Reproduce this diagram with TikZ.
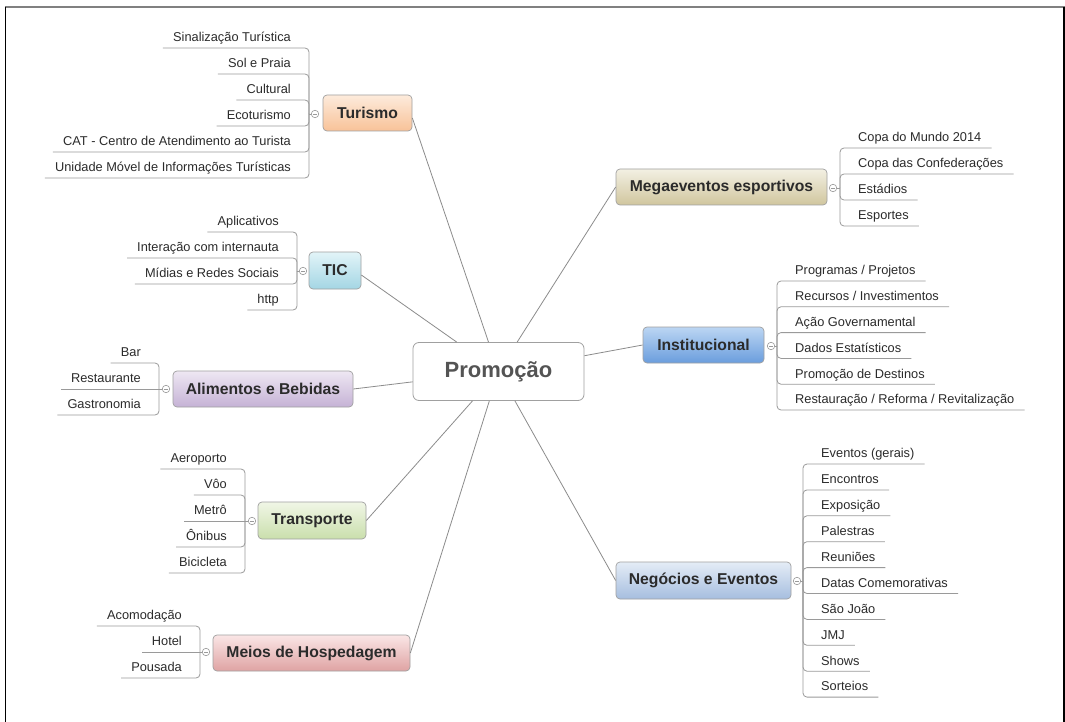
\documentclass[tikz,border=0pt]{standalone}
\usepackage{fontspec}
\setmainfont{Liberation Sans}
\usetikzlibrary{calc}
\definecolor{txt}{HTML}{2B2B2B}
\definecolor{ln}{HTML}{8C8C8C}
\definecolor{sl}{HTML}{9A9A9A}
\definecolor{bd}{HTML}{A0A0A0}
\definecolor{turT}{HTML}{FDEBDC}\definecolor{turB}{HTML}{F8C298}
\definecolor{ticT}{HTML}{E2F4F8}\definecolor{ticB}{HTML}{A4D6E4}
\definecolor{aliT}{HTML}{EEE7F3}\definecolor{aliB}{HTML}{C5B2D5}
\definecolor{traT}{HTML}{F0F6E6}\definecolor{traB}{HTML}{CADFAC}
\definecolor{meiT}{HTML}{FAE6E6}\definecolor{meiB}{HTML}{DFA3A3}
\definecolor{megT}{HTML}{F3F0E3}\definecolor{megB}{HTML}{D0C69E}
\definecolor{insT}{HTML}{BCD6F3}\definecolor{insB}{HTML}{6A9DDD}
\definecolor{negT}{HTML}{E4ECF6}\definecolor{negB}{HTML}{A6BEDF}
\tikzset{
  topic/.style={draw=bd, line width=0.7pt, rounded corners=4pt, inner sep=0pt,
    font=\fontsize{15.7}{18}\selectfont\bfseries, text=txt, minimum height=36pt},
  itemL/.style={anchor=south east, inner xsep=10pt, inner ysep=3pt, text height=9.5pt,
    text depth=3pt, font=\fontsize{12.8}{14}\selectfont, text=txt},
  itemR/.style={itemL, anchor=south west},
  sub/.style={draw=sl, line width=0.8pt, rounded corners=4pt},
  mainln/.style={draw=ln, line width=0.8pt},
  coll/.style={circle, draw=sl, fill=white, minimum size=7.5pt, inner sep=0pt, line width=0.6pt,
    path picture={\draw[draw=sl, line width=0.5pt]
      ([xshift=-2pt]path picture bounding box.center) -- ([xshift=2pt]path picture bounding box.center);}}
}
\begin{document}
\begin{tikzpicture}[x=1pt,y=-1pt]
\useasboundingbox (0,0) rectangle (1065,722);
\fill[white] (0,0) rectangle (1065,722);
\draw[gray, line width=2pt] (5,7) -- (1065,7);
\draw[black, line width=1.3pt] (5.5,7) -- (5.5,722);
\draw[black, line width=1.3pt] (1064,7) -- (1064,722);

% central topic
\node[draw=bd, line width=0.8pt, rounded corners=6pt, minimum width=171pt, minimum height=58pt,
  fill=white, inner sep=0pt, font=\fontsize{22}{26}\selectfont\bfseries, text=black!67] (promo) at (498.5,371.5) {Promoção};

% main topics
\node[topic, top color=turT, bottom color=turB, minimum width=89pt] (tur) at (367.5,113) {Turismo};
\node[topic, top color=ticT, bottom color=ticB, minimum width=52pt, minimum height=37pt] (tic) at (335,270.5) {TIC};
\node[topic, top color=aliT, bottom color=aliB, minimum width=180pt] (ali) at (263,389) {Alimentos e Bebidas};
\node[topic, top color=traT, bottom color=traB, minimum width=108pt, minimum height=37pt] (tra) at (312,520.5) {Transporte};
\node[topic, top color=meiT, bottom color=meiB, minimum width=197pt] (mei) at (311.5,653) {Meios de Hospedagem};
\node[topic, top color=megT, bottom color=megB, minimum width=211pt] (meg) at (721.5,187) {Megaeventos esportivos};
\node[topic, top color=insT, bottom color=insB, minimum width=121pt] (ins) at (703.5,345) {Institucional};
\node[topic, top color=negT, bottom color=negB, minimum width=175pt, minimum height=37pt] (neg) at (703.5,580.5) {Negócios e Eventos};

% main connectors
\draw[mainln] ($(tur.east)+(0,5)$) -- (promo);
\draw[mainln] ($(tic.east)+(0,4.5)$) -- (promo);
\draw[mainln] (ali.east) -- (promo);
\draw[mainln] (tra.east) -- (promo);
\draw[mainln] (mei.east) -- (promo);
\draw[mainln] (meg.west) -- (promo);
\draw[mainln] (ins.west) -- (promo);
\draw[mainln] (neg.west) -- (promo);

% Turismo branch
\node[coll] (turC) at (315,114) {};
\coordinate (turBr) at (309,114);
\draw[sub] (turC) -- (turBr);
\foreach \t [count=\i] in {{Sinalização Turística},{Sol e Praia},{Cultural},{Ecoturismo},
  {CAT - Centro de Atendimento ao Turista},{Unidade Móvel de Informações Turísticas}}{
  \node[itemL] (tur-\i) at (301,{48+26*(\i-1)}) {\t};
  \draw[sub] (turBr) |- (tur-\i.south west);
}

% TIC branch
\node[coll] (ticC) at (303,271) {};
\coordinate (ticBr) at (297,271);
\draw[sub] (ticC) -- (ticBr);
\foreach \t [count=\i] in {{Aplicativos},{Interação com internauta},{Mídias e Redes Sociais},{http}}{
  \node[itemL] (tic-\i) at (289,{232+26*(\i-1)}) {\t};
  \draw[sub] (ticBr) |- (tic-\i.south west);
}

% Alimentos branch
\node[coll] (aliC) at (166,389) {};
\coordinate (aliBr) at (159,389);
\draw[sub] (aliC) -- (aliBr);
\foreach \t [count=\i] in {{Bar},{Restaurante},{Gastronomia}}{
  \node[itemL] (ali-\i) at (151,{363+26*(\i-1)}) {\t};
  \ifnum\i=2 \draw[sub] (aliBr) -- (ali-\i.south west);
  \else \draw[sub] (aliBr) |- (ali-\i.south west); \fi
}

% Transporte branch
\node[coll] (traC) at (252,521) {};
\coordinate (traBr) at (245,521);
\draw[sub] (traC) -- (traBr);
\foreach \t [count=\i] in {{Aeroporto},{Vôo},{Metrô},{Ônibus},{Bicicleta}}{
  \node[itemL] (tra-\i) at (237,{469+26*(\i-1)}) {\t};
  \ifnum\i=3 \draw[sub] (traBr) -- (tra-\i.south west);
  \else \draw[sub] (traBr) |- (tra-\i.south west); \fi
}

% Meios branch
\node[coll] (meiC) at (206,652) {};
\coordinate (meiBr) at (200,652);
\draw[sub] (meiC) -- (meiBr);
\foreach \t [count=\i] in {{Acomodação},{Hotel},{Pousada}}{
  \node[itemL] (mei-\i) at (192,{626+26*(\i-1)}) {\t};
  \ifnum\i=2 \draw[sub] (meiBr) -- (mei-\i.south west);
  \else \draw[sub] (meiBr) |- (mei-\i.south west); \fi
}

% Megaeventos branch
\node[coll] (megC) at (833,188) {};
\coordinate (megBr) at (840,188);
\draw[sub] (megC) -- (megBr);
\foreach \t [count=\i] in {{Copa do Mundo 2014},{Copa das Confederações},{Estádios},{Esportes}}{
  \node[itemR] (meg-\i) at (848,{148+26*(\i-1)}) {\t};
  \draw[sub] (megBr) |- (meg-\i.south east);
}

% Institucional branch
\node[coll] (insC) at (771,346) {};
\coordinate (insBr) at (777,346);
\draw[sub] (insC) -- (insBr);
\foreach \t [count=\i] in {{Programas / Projetos},{Recursos / Investimentos},{Ação Governamental},
  {Dados Estatísticos},{Promoção de Destinos},{Restauração / Reforma / Revitalização}}{
  \node[itemR] (ins-\i) at (785,{281+25.8*(\i-1)}) {\t};
  \draw[sub] (insBr) |- (ins-\i.south east);
}

% Negocios branch
\node[coll] (negC) at (797,581) {};
\coordinate (negBr) at (803,581);
\draw[sub] (negC) -- (negBr);
\foreach \t [count=\i] in {{Eventos (gerais)},{Encontros},{Exposição},{Palestras},{Reuniões},
  {Datas Comemorativas},{São João},{JMJ},{Shows},{Sorteios}}{
  \node[itemR] (neg-\i) at (811,{464+25.9*(\i-1)}) {\t};
  \draw[sub] (negBr) |- (neg-\i.south east);
}
\end{tikzpicture}
\end{document}
